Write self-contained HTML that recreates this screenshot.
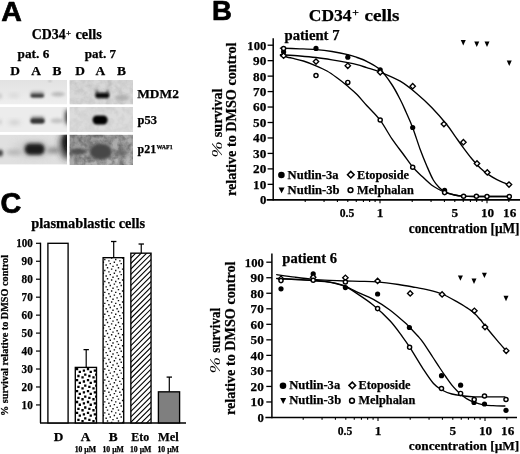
<!DOCTYPE html>
<html><head><meta charset="utf-8"><title>Figure</title>
<style>html,body{margin:0;padding:0;background:#fff}svg{display:block}</style></head>
<body>
<svg width="520" height="454" viewBox="0 0 520 454">
<defs>
<filter id="b1" x="-50%" y="-50%" width="200%" height="200%"><feGaussianBlur stdDeviation="1"/></filter>
<filter id="b15" x="-50%" y="-50%" width="200%" height="200%"><feGaussianBlur stdDeviation="1.5"/></filter>
<filter id="b2" x="-50%" y="-50%" width="200%" height="200%"><feGaussianBlur stdDeviation="2.2"/></filter>
<filter id="b3" x="-50%" y="-50%" width="200%" height="200%"><feGaussianBlur stdDeviation="3.5"/></filter>
<filter id="noise" x="0" y="0" width="100%" height="100%"><feTurbulence type="fractalNoise" baseFrequency="0.16" numOctaves="3" seed="7" result="n"/><feColorMatrix type="matrix" values="0 0 0 0 0  0 0 0 0 0  0 0 0 0 0  1.1 1.1 0 0 -0.85"/><feGaussianBlur stdDeviation="0.6"/></filter>
<pattern id="pA" width="3.2" height="3.2" patternUnits="userSpaceOnUse" patternTransform="rotate(20)"><rect width="3.2" height="3.2" fill="#fff"/><rect x="0.6" y="0.6" width="1.8" height="1.8" fill="#000"/></pattern>
<pattern id="pB" width="3.2" height="3.2" patternUnits="userSpaceOnUse" patternTransform="rotate(20)"><rect width="3.2" height="3.2" fill="#fff"/><rect x="1" y="1" width="0.9" height="0.9" fill="#111"/></pattern>
<pattern id="pE" width="3.5" height="3.5" patternUnits="userSpaceOnUse" patternTransform="rotate(-50)"><rect width="3.5" height="3.5" fill="#fff"/><rect x="0" y="0" width="3.5" height="1.3" fill="#000"/></pattern>
<clipPath id="cL1"><rect x="0" y="80" width="67" height="24.5"/></clipPath>
<clipPath id="cL2"><rect x="0" y="107" width="67" height="25.4"/></clipPath>
<clipPath id="cL3"><rect x="0" y="134.7" width="67" height="30"/></clipPath>
<clipPath id="cR1"><rect x="69.4" y="80" width="63.6" height="24.6"/></clipPath>
<clipPath id="cR2"><rect x="69.4" y="107" width="63.6" height="25.4"/></clipPath>
<clipPath id="cR3"><rect x="69.4" y="134.7" width="63.6" height="30.4"/></clipPath>
</defs>
<rect width="520" height="454" fill="#fff"/>
<text x="1.2" y="20.5" font-size="27.5" text-anchor="start" font-family="'Liberation Sans', sans-serif" font-weight="bold" textLength="20.6" lengthAdjust="spacingAndGlyphs" stroke="#000" stroke-width="0.7" stroke-linejoin="round">A</text>
<text x="211.9" y="20.4" font-size="27.5" text-anchor="start" font-family="'Liberation Sans', sans-serif" font-weight="bold" stroke="#000" stroke-width="0.7" stroke-linejoin="round">B</text>
<text x="0.4" y="213" font-size="28.8" text-anchor="start" font-family="'Liberation Sans', sans-serif" font-weight="bold" stroke="#000" stroke-width="0.7" stroke-linejoin="round">C</text>
<text x="31.8" y="39.2" font-size="13.6" text-anchor="start" font-family="'Liberation Serif', serif" font-weight="bold" stroke="#000" stroke-width="0.25" textLength="33.9" lengthAdjust="spacingAndGlyphs" >CD34</text>
<text x="66" y="36" font-size="8.5" text-anchor="start" font-family="'Liberation Serif', serif" font-weight="bold" stroke="#000" stroke-width="0.25" textLength="5" lengthAdjust="spacingAndGlyphs" >+</text>
<text x="75.4" y="39.2" font-size="13.6" text-anchor="start" font-family="'Liberation Serif', serif" font-weight="bold" stroke="#000" stroke-width="0.25" textLength="26.4" lengthAdjust="spacingAndGlyphs" >cells</text>
<text x="17.6" y="57.5" font-size="13.4" text-anchor="start" font-family="'Liberation Serif', serif" font-weight="bold" stroke="#000" stroke-width="0.25" textLength="31.7" lengthAdjust="spacingAndGlyphs" >pat. 6</text>
<text x="84.7" y="57.5" font-size="13.4" text-anchor="start" font-family="'Liberation Serif', serif" font-weight="bold" stroke="#000" stroke-width="0.25" textLength="31.3" lengthAdjust="spacingAndGlyphs" >pat. 7</text>
<text x="15" y="75" font-size="13.4" text-anchor="middle" font-family="'Liberation Serif', serif" font-weight="bold" stroke="#000" stroke-width="0.25" stroke-width="0.1">D</text>
<text x="36" y="75" font-size="13.4" text-anchor="middle" font-family="'Liberation Serif', serif" font-weight="bold" stroke="#000" stroke-width="0.25" stroke-width="0.1">A</text>
<text x="57" y="75" font-size="13.4" text-anchor="middle" font-family="'Liberation Serif', serif" font-weight="bold" stroke="#000" stroke-width="0.25" stroke-width="0.1">B</text>
<text x="80" y="75" font-size="13.4" text-anchor="middle" font-family="'Liberation Serif', serif" font-weight="bold" stroke="#000" stroke-width="0.25" stroke-width="0.1">D</text>
<text x="100.4" y="75" font-size="13.4" text-anchor="middle" font-family="'Liberation Serif', serif" font-weight="bold" stroke="#000" stroke-width="0.25" stroke-width="0.1">A</text>
<text x="121.4" y="75" font-size="13.4" text-anchor="middle" font-family="'Liberation Serif', serif" font-weight="bold" stroke="#000" stroke-width="0.25" stroke-width="0.1">B</text>
<text x="137.2" y="97.8" font-size="13.3" text-anchor="start" font-family="'Liberation Serif', serif" font-weight="bold" stroke="#000" stroke-width="0.25" textLength="41.7" lengthAdjust="spacingAndGlyphs" >MDM2</text>
<text x="137.6" y="123.8" font-size="13" text-anchor="start" font-family="'Liberation Serif', serif" font-weight="bold" stroke="#000" stroke-width="0.25" textLength="19.4" lengthAdjust="spacingAndGlyphs" >p53</text>
<text x="137.6" y="152.9" font-size="13" text-anchor="start" font-family="'Liberation Serif', serif" font-weight="bold" stroke="#000" stroke-width="0.25" textLength="18.6" lengthAdjust="spacingAndGlyphs" >p21</text>
<text x="156.5" y="149" font-size="6.5" text-anchor="start" font-family="'Liberation Serif', serif" font-weight="bold" stroke="#000" stroke-width="0.25" textLength="16.2" lengthAdjust="spacingAndGlyphs" >WAF1</text>
<linearGradient id="gL1" x1="0" y1="0" x2="0" y2="1"><stop offset="0" stop-color="#e2e2e2"/><stop offset="1" stop-color="#efefef"/></linearGradient>
<linearGradient id="gR3" x1="0" y1="0" x2="1" y2="1"><stop offset="0" stop-color="#909090"/><stop offset="0.5" stop-color="#ababab"/><stop offset="1" stop-color="#bcbcbc"/></linearGradient>
<g clip-path="url(#cL1)"><rect x="0" y="80" width="67" height="24.5" fill="url(#gL1)"/>
<ellipse cx="14" cy="95.5" rx="6" ry="2.2" fill="#d2d2d2" opacity="0.8" filter="url(#b2)"/>
<rect x="30.5" y="91.5" width="13.5" height="5.5" rx="2" fill="#8a8a8a" opacity="0.8" filter="url(#b15)"/>
<rect x="30.5" y="94" width="13.5" height="3.6" rx="2" fill="#3c3c3c" opacity="1" filter="url(#b1)"/>
<ellipse cx="58" cy="94.3" rx="7" ry="2.2" fill="#b4b4b4" opacity="0.9" filter="url(#b15)"/>
<ellipse cx="0" cy="96" rx="2" ry="3" fill="#c8c8c8" opacity="0.9" filter="url(#b15)"/>
<ellipse cx="50" cy="81" rx="1.6" ry="0.9" fill="#999" opacity="0.6" filter="url(#b1)"/>
</g>
<g clip-path="url(#cL2)"><rect x="0" y="107" width="67" height="25" fill="#ececec"/>
<ellipse cx="14.5" cy="122.5" rx="6" ry="2.6" fill="#cdcdcd" opacity="0.9" filter="url(#b2)"/>
<rect x="30.5" y="116" width="14" height="7" rx="3" fill="#909090" opacity="0.8" filter="url(#b15)"/>
<rect x="30.5" y="118.5" width="14" height="5" rx="2.5" fill="#333" opacity="1" filter="url(#b1)"/>
<ellipse cx="57" cy="120.7" rx="6.5" ry="2.5" fill="#c0c0c0" opacity="0.95" filter="url(#b15)"/>
<ellipse cx="68.5" cy="117" rx="3.5" ry="8" fill="#333" opacity="1" filter="url(#b2)"/>
<ellipse cx="0" cy="122" rx="2" ry="3" fill="#d0d0d0" opacity="0.9" filter="url(#b15)"/>
</g>
<g clip-path="url(#cL3)"><rect x="0" y="134.5" width="67" height="30" fill="#e0e0e0"/>
<ellipse cx="34" cy="149" rx="22" ry="9" fill="#cfcfcf" opacity="0.9" filter="url(#b3)"/>
<ellipse cx="14" cy="152.4" rx="8" ry="2.6" fill="#b0b0b0" opacity="0.9" filter="url(#b2)"/>
<rect x="24.5" y="143" width="20" height="12" rx="5" fill="#555" opacity="0.9" filter="url(#b2)"/>
<rect x="25.5" y="144.5" width="18.5" height="9.5" rx="4.5" fill="#1e1e1e" opacity="1" filter="url(#b15)"/>
<ellipse cx="53" cy="150.5" rx="6.5" ry="2.8" fill="#8c8c8c" opacity="0.95" filter="url(#b2)"/>
<ellipse cx="68" cy="145" rx="8" ry="14" fill="#2a2a2a" opacity="1" filter="url(#b3)"/>
<ellipse cx="69" cy="141" rx="5" ry="9" fill="#111" opacity="1" filter="url(#b2)"/>
<ellipse cx="0" cy="153" rx="3" ry="3.6" fill="#444" opacity="1" filter="url(#b15)"/>
</g>
<g clip-path="url(#cR1)"><rect x="69.4" y="80" width="63.6" height="24.5" fill="#d8d8d8"/>
<rect x="69" y="80" width="64" height="24.5" filter="url(#noise)" opacity="0.12"/>
<rect x="95.3" y="89.5" width="3.4" height="6" rx="1.5" fill="#777" opacity="0.9" filter="url(#b1)"/>
<rect x="105.8" y="89.5" width="3.4" height="6" rx="1.5" fill="#777" opacity="0.9" filter="url(#b1)"/>
<rect x="95.3" y="92.8" width="14" height="5.4" rx="2.5" fill="#0c0c0c" opacity="1" filter="url(#b1)"/>
<ellipse cx="122" cy="97.8" rx="7.5" ry="2.6" fill="#adadad" opacity="0.95" filter="url(#b15)"/>
</g>
<g clip-path="url(#cR2)"><rect x="69.4" y="107" width="63.6" height="25" fill="#dcdcdc"/>
<rect x="69" y="107" width="64" height="25" filter="url(#noise)" opacity="0.08"/>
<rect x="92.6" y="115.4" width="15" height="9" rx="4.2" fill="#000" opacity="1" filter="url(#b1)"/>
</g>
<g clip-path="url(#cR3)"><rect x="69.4" y="134.5" width="63.6" height="30.6" fill="url(#gR3)"/>
<rect x="69" y="134.5" width="64" height="31" filter="url(#noise)" opacity="0.5"/>
<ellipse cx="79" cy="151.4" rx="8.5" ry="3" fill="#505050" opacity="0.95" filter="url(#b15)"/>
<ellipse cx="100.7" cy="151.6" rx="11" ry="8.2" fill="#474747" opacity="1" filter="url(#b15)"/>
<ellipse cx="121" cy="153" rx="7.5" ry="3" fill="#5c5c5c" opacity="0.9" filter="url(#b2)"/>
</g>
<line x1="273.2" y1="38.3" x2="273.2" y2="200.5" stroke="#000" stroke-width="1.5"/>
<line x1="266.7" y1="199.8" x2="520" y2="199.8" stroke="#000" stroke-width="1.7"/>
<text x="266.3" y="204.20000000000002" font-size="13" text-anchor="end" font-family="'Liberation Serif', serif" font-weight="bold" stroke="#000" stroke-width="0.25" textLength="6.4" lengthAdjust="spacingAndGlyphs" >0</text>
<line x1="267.59999999999997" y1="184.34" x2="273.2" y2="184.34" stroke="#000" stroke-width="1.3"/>
<text x="266.3" y="188.74" font-size="13" text-anchor="end" font-family="'Liberation Serif', serif" font-weight="bold" stroke="#000" stroke-width="0.25" textLength="13.2" lengthAdjust="spacingAndGlyphs" >10</text>
<line x1="267.59999999999997" y1="168.88" x2="273.2" y2="168.88" stroke="#000" stroke-width="1.3"/>
<text x="266.3" y="173.28" font-size="13" text-anchor="end" font-family="'Liberation Serif', serif" font-weight="bold" stroke="#000" stroke-width="0.25" textLength="13.2" lengthAdjust="spacingAndGlyphs" >20</text>
<line x1="267.59999999999997" y1="153.42000000000002" x2="273.2" y2="153.42000000000002" stroke="#000" stroke-width="1.3"/>
<text x="266.3" y="157.82000000000002" font-size="13" text-anchor="end" font-family="'Liberation Serif', serif" font-weight="bold" stroke="#000" stroke-width="0.25" textLength="13.2" lengthAdjust="spacingAndGlyphs" >30</text>
<line x1="267.59999999999997" y1="137.96" x2="273.2" y2="137.96" stroke="#000" stroke-width="1.3"/>
<text x="266.3" y="142.36" font-size="13" text-anchor="end" font-family="'Liberation Serif', serif" font-weight="bold" stroke="#000" stroke-width="0.25" textLength="13.2" lengthAdjust="spacingAndGlyphs" >40</text>
<line x1="267.59999999999997" y1="122.5" x2="273.2" y2="122.5" stroke="#000" stroke-width="1.3"/>
<text x="266.3" y="126.9" font-size="13" text-anchor="end" font-family="'Liberation Serif', serif" font-weight="bold" stroke="#000" stroke-width="0.25" textLength="13.2" lengthAdjust="spacingAndGlyphs" >50</text>
<line x1="267.59999999999997" y1="107.03999999999999" x2="273.2" y2="107.03999999999999" stroke="#000" stroke-width="1.3"/>
<text x="266.3" y="111.44" font-size="13" text-anchor="end" font-family="'Liberation Serif', serif" font-weight="bold" stroke="#000" stroke-width="0.25" textLength="13.2" lengthAdjust="spacingAndGlyphs" >60</text>
<line x1="267.59999999999997" y1="91.58" x2="273.2" y2="91.58" stroke="#000" stroke-width="1.3"/>
<text x="266.3" y="95.98" font-size="13" text-anchor="end" font-family="'Liberation Serif', serif" font-weight="bold" stroke="#000" stroke-width="0.25" textLength="13.2" lengthAdjust="spacingAndGlyphs" >70</text>
<line x1="267.59999999999997" y1="76.11999999999999" x2="273.2" y2="76.11999999999999" stroke="#000" stroke-width="1.3"/>
<text x="266.3" y="80.52" font-size="13" text-anchor="end" font-family="'Liberation Serif', serif" font-weight="bold" stroke="#000" stroke-width="0.25" textLength="13.2" lengthAdjust="spacingAndGlyphs" >80</text>
<line x1="267.59999999999997" y1="60.66" x2="273.2" y2="60.66" stroke="#000" stroke-width="1.3"/>
<text x="266.3" y="65.06" font-size="13" text-anchor="end" font-family="'Liberation Serif', serif" font-weight="bold" stroke="#000" stroke-width="0.25" textLength="13.2" lengthAdjust="spacingAndGlyphs" >90</text>
<line x1="267.59999999999997" y1="45.19999999999999" x2="273.2" y2="45.19999999999999" stroke="#000" stroke-width="1.3"/>
<text x="266.3" y="49.59999999999999" font-size="13" text-anchor="end" font-family="'Liberation Serif', serif" font-weight="bold" stroke="#000" stroke-width="0.25" textLength="19" lengthAdjust="spacingAndGlyphs" >100</text>
<line x1="305.210209536046" y1="199.8" x2="305.210209536046" y2="202.0" stroke="#000" stroke-width="1.1"/>
<line x1="324.05197425500387" y1="199.8" x2="324.05197425500387" y2="202.0" stroke="#000" stroke-width="1.1"/>
<line x1="337.420419072092" y1="199.8" x2="337.420419072092" y2="202.0" stroke="#000" stroke-width="1.1"/>
<line x1="347.78979046395403" y1="199.8" x2="347.78979046395403" y2="202.0" stroke="#000" stroke-width="1.1"/>
<line x1="356.2621837910499" y1="199.8" x2="356.2621837910499" y2="202.0" stroke="#000" stroke-width="1.1"/>
<line x1="363.42549028152547" y1="199.8" x2="363.42549028152547" y2="202.0" stroke="#000" stroke-width="1.1"/>
<line x1="369.63062860813795" y1="199.8" x2="369.63062860813795" y2="202.0" stroke="#000" stroke-width="1.1"/>
<line x1="375.10394851000774" y1="199.8" x2="375.10394851000774" y2="202.0" stroke="#000" stroke-width="1.1"/>
<line x1="380.0" y1="199.8" x2="380.0" y2="203.3" stroke="#000" stroke-width="1.1"/>
<line x1="412.21020953604597" y1="199.8" x2="412.21020953604597" y2="202.0" stroke="#000" stroke-width="1.1"/>
<line x1="431.05197425500387" y1="199.8" x2="431.05197425500387" y2="202.0" stroke="#000" stroke-width="1.1"/>
<line x1="444.420419072092" y1="199.8" x2="444.420419072092" y2="202.0" stroke="#000" stroke-width="1.1"/>
<line x1="454.78979046395403" y1="199.8" x2="454.78979046395403" y2="202.0" stroke="#000" stroke-width="1.1"/>
<line x1="463.2621837910499" y1="199.8" x2="463.2621837910499" y2="202.0" stroke="#000" stroke-width="1.1"/>
<line x1="470.42549028152547" y1="199.8" x2="470.42549028152547" y2="202.0" stroke="#000" stroke-width="1.1"/>
<line x1="476.63062860813795" y1="199.8" x2="476.63062860813795" y2="202.0" stroke="#000" stroke-width="1.1"/>
<line x1="482.10394851000774" y1="199.8" x2="482.10394851000774" y2="202.0" stroke="#000" stroke-width="1.1"/>
<line x1="487.0" y1="199.8" x2="487.0" y2="203.3" stroke="#000" stroke-width="1.1"/>
<line x1="508.840838144184" y1="199.8" x2="508.840838144184" y2="202.0" stroke="#000" stroke-width="1.1"/>
<text x="346.989790463954" y="217.4" font-size="13.3" text-anchor="middle" font-family="'Liberation Serif', serif" font-weight="bold" stroke="#000" stroke-width="0.25" textLength="14.6" lengthAdjust="spacingAndGlyphs" >0.5</text>
<text x="380.0" y="217.4" font-size="13.3" text-anchor="middle" font-family="'Liberation Serif', serif" font-weight="bold" stroke="#000" stroke-width="0.25" >1</text>
<text x="454.78979046395403" y="217.4" font-size="13.3" text-anchor="middle" font-family="'Liberation Serif', serif" font-weight="bold" stroke="#000" stroke-width="0.25" >5</text>
<text x="487.6" y="217.4" font-size="13.3" text-anchor="middle" font-family="'Liberation Serif', serif" font-weight="bold" stroke="#000" stroke-width="0.25" textLength="13.2" lengthAdjust="spacingAndGlyphs" >10</text>
<text x="509.640838144184" y="217.4" font-size="13.3" text-anchor="middle" font-family="'Liberation Serif', serif" font-weight="bold" stroke="#000" stroke-width="0.25" textLength="13.2" lengthAdjust="spacingAndGlyphs" >16</text>
<text x="284.5" y="39.8" font-size="14.2" text-anchor="start" font-family="'Liberation Serif', serif" font-weight="bold" stroke="#000" stroke-width="0.25" textLength="55" lengthAdjust="spacingAndGlyphs" >patient 7</text>
<path d="M280.40,48.20 C283.67,48.30 294.07,48.57 300.00,48.80 C305.93,49.03 310.67,49.15 316.00,49.60 C321.33,50.05 326.70,50.67 332.00,51.50 C337.30,52.33 343.63,53.60 347.80,54.60 C351.97,55.60 353.85,56.38 357.00,57.50 C360.15,58.62 362.85,59.28 366.70,61.30 C370.55,63.32 375.92,65.73 380.10,69.60 C384.28,73.47 388.45,79.52 391.80,84.50 C395.15,89.48 397.83,94.92 400.20,99.50 C402.57,104.08 403.92,107.30 406.00,112.00 C408.08,116.70 410.33,121.45 412.70,127.70 C415.07,133.95 417.83,143.08 420.20,149.50 C422.57,155.92 424.72,161.12 426.90,166.20 C429.08,171.28 431.25,176.45 433.30,180.00 C435.35,183.55 437.25,185.52 439.20,187.50 C441.15,189.48 442.43,190.65 445.00,191.90 C447.57,193.15 451.55,194.28 454.60,195.00 C457.65,195.72 459.73,195.95 463.30,196.20 C466.87,196.45 468.38,196.45 476.00,196.50 C483.62,196.55 503.50,196.50 509.00,196.50" fill="none" stroke="#000" stroke-width="1.35" stroke-linecap="round"/>
<path d="M280.40,54.70 C283.67,54.92 294.07,55.53 300.00,56.00 C305.93,56.47 310.67,56.87 316.00,57.50 C321.33,58.13 326.70,58.95 332.00,59.80 C337.30,60.65 343.63,61.80 347.80,62.60 C351.97,63.40 353.85,63.77 357.00,64.60 C360.15,65.43 362.85,66.37 366.70,67.60 C370.55,68.83 374.52,69.73 380.10,72.00 C385.68,74.27 394.07,77.58 400.20,81.20 C406.33,84.82 411.65,89.32 416.90,93.70 C422.15,98.08 426.73,102.37 431.70,107.50 C436.67,112.63 442.82,119.73 446.70,124.50 C450.58,129.27 452.22,132.22 455.00,136.10 C457.78,139.98 460.60,144.03 463.40,147.80 C466.20,151.57 469.00,155.35 471.80,158.70 C474.60,162.05 477.42,165.25 480.20,167.90 C482.98,170.55 485.72,172.65 488.50,174.60 C491.28,176.55 494.38,178.27 496.90,179.60 C499.42,180.93 501.58,181.77 503.60,182.60 C505.62,183.43 508.10,184.27 509.00,184.60" fill="none" stroke="#000" stroke-width="1.35" stroke-linecap="round"/>
<path d="M280.40,55.70 C282.33,56.12 288.17,57.32 292.00,58.20 C295.83,59.08 299.40,59.73 303.40,61.00 C307.40,62.27 312.07,64.13 316.00,65.80 C319.93,67.47 323.50,69.00 327.00,71.00 C330.50,73.00 333.53,75.25 337.00,77.80 C340.47,80.35 344.47,83.52 347.80,86.30 C351.13,89.08 353.85,91.30 357.00,94.50 C360.15,97.70 362.85,101.22 366.70,105.50 C370.55,109.78 375.92,114.68 380.10,120.20 C384.28,125.72 387.90,132.88 391.80,138.60 C395.70,144.32 400.02,149.77 403.50,154.50 C406.98,159.23 409.63,163.38 412.70,167.00 C415.77,170.62 418.77,173.20 421.90,176.20 C425.03,179.20 428.65,182.78 431.50,185.00 C434.35,187.22 436.75,188.28 439.00,189.50 C441.25,190.72 442.40,191.38 445.00,192.30 C447.60,193.22 451.55,194.35 454.60,195.00 C457.65,195.65 459.73,195.95 463.30,196.20 C466.87,196.45 468.38,196.45 476.00,196.50 C483.62,196.55 503.50,196.50 509.00,196.50" fill="none" stroke="#000" stroke-width="1.35" stroke-linecap="round"/>
<circle cx="283.6" cy="51.9" r="2.6" fill="#000"/>
<circle cx="316" cy="48.4" r="2.6" fill="#000"/>
<circle cx="347.8" cy="57.2" r="2.6" fill="#000"/>
<circle cx="380.2" cy="69.8" r="2.6" fill="#000"/>
<circle cx="412.7" cy="127.5" r="2.6" fill="#000"/>
<circle cx="444.6" cy="190.4" r="2.6" fill="#000"/>
<path d="M280.90000000000003,55.7 L283.6,53.0 L286.3,55.7 L283.6,58.400000000000006 Z" fill="#fff" stroke="#000" stroke-width="1.35"/>
<path d="M313.3,61.6 L316,58.9 L318.7,61.6 L316,64.3 Z" fill="#fff" stroke="#000" stroke-width="1.35"/>
<path d="M345.1,65.8 L347.8,63.099999999999994 L350.5,65.8 L347.8,68.5 Z" fill="#fff" stroke="#000" stroke-width="1.35"/>
<path d="M377.5,72.3 L380.2,69.6 L382.9,72.3 L380.2,75.0 Z" fill="#fff" stroke="#000" stroke-width="1.35"/>
<path d="M410.0,86.2 L412.7,83.5 L415.4,86.2 L412.7,88.9 Z" fill="#fff" stroke="#000" stroke-width="1.35"/>
<path d="M441.2,124.1 L443.9,121.39999999999999 L446.59999999999997,124.1 L443.9,126.8 Z" fill="#fff" stroke="#000" stroke-width="1.35"/>
<path d="M460.7,142.2 L463.4,139.5 L466.09999999999997,142.2 L463.4,144.89999999999998 Z" fill="#fff" stroke="#000" stroke-width="1.35"/>
<path d="M474.3,163.5 L477,160.8 L479.7,163.5 L477,166.2 Z" fill="#fff" stroke="#000" stroke-width="1.35"/>
<path d="M484.6,172.4 L487.3,169.70000000000002 L490.0,172.4 L487.3,175.1 Z" fill="#fff" stroke="#000" stroke-width="1.35"/>
<path d="M506.3,184.6 L509,181.9 L511.7,184.6 L509,187.29999999999998 Z" fill="#fff" stroke="#000" stroke-width="1.35"/>
<circle cx="283.6" cy="48.5" r="2.05" fill="#fff" stroke="#000" stroke-width="1.45"/>
<circle cx="316" cy="75.6" r="2.05" fill="#fff" stroke="#000" stroke-width="1.45"/>
<circle cx="347.8" cy="82.4" r="2.05" fill="#fff" stroke="#000" stroke-width="1.45"/>
<circle cx="380.2" cy="120" r="2.05" fill="#fff" stroke="#000" stroke-width="1.45"/>
<circle cx="412.7" cy="167.2" r="2.05" fill="#fff" stroke="#000" stroke-width="1.45"/>
<circle cx="444.6" cy="192.6" r="2.05" fill="#fff" stroke="#000" stroke-width="1.45"/>
<circle cx="463.6" cy="196.2" r="2.05" fill="#fff" stroke="#000" stroke-width="1.45"/>
<circle cx="476.4" cy="196.2" r="2.05" fill="#fff" stroke="#000" stroke-width="1.45"/>
<circle cx="487" cy="196.5" r="2.05" fill="#fff" stroke="#000" stroke-width="1.45"/>
<circle cx="509.3" cy="196.5" r="2.05" fill="#fff" stroke="#000" stroke-width="1.45"/>
<path d="M460.75,40.0 L465.75,40.0 L463.25,45.400000000000006 Z" fill="#000"/>
<path d="M474.25,41.5 L479.25,41.5 L476.75,46.900000000000006 Z" fill="#000"/>
<path d="M484.5,41.5 L489.5,41.5 L487,46.900000000000006 Z" fill="#000"/>
<path d="M506.75,60.5 L511.75,60.5 L509.25,65.9 Z" fill="#000"/>
<circle cx="281.4" cy="175.0" r="3.3" fill="#000"/>
<text x="287.6" y="178.6" font-size="13.5" text-anchor="start" font-family="'Liberation Serif', serif" font-weight="bold" stroke="#000" stroke-width="0.25" textLength="51" lengthAdjust="spacingAndGlyphs" >Nutlin-3a</text>
<path d="M278.6,187.5 L284.6,187.5 L281.6,193.3 Z" fill="#000"/>
<text x="287.6" y="193.8" font-size="13.5" text-anchor="start" font-family="'Liberation Serif', serif" font-weight="bold" stroke="#000" stroke-width="0.25" textLength="52" lengthAdjust="spacingAndGlyphs" >Nutlin-3b</text>
<path d="M347.5,174.7 L350.8,171.39999999999998 L354.1,174.7 L350.8,178.0 Z" fill="#fff" stroke="#000" stroke-width="1.55"/>
<text x="357.0" y="178.6" font-size="13.5" text-anchor="start" font-family="'Liberation Serif', serif" font-weight="bold" stroke="#000" stroke-width="0.25" textLength="52" lengthAdjust="spacingAndGlyphs" >Etoposide</text>
<circle cx="350.5" cy="190.10000000000002" r="2.4" fill="#fff" stroke="#000" stroke-width="1.55"/>
<text x="357.0" y="193.8" font-size="13.5" text-anchor="start" font-family="'Liberation Serif', serif" font-weight="bold" stroke="#000" stroke-width="0.25" textLength="56.75" lengthAdjust="spacingAndGlyphs" >Melphalan</text>
<text x="408.75" y="232.9" font-size="13.8" text-anchor="start" font-family="'Liberation Serif', serif" font-weight="bold" stroke="#000" stroke-width="0.25" textLength="110.8" lengthAdjust="spacingAndGlyphs" >concentration [µM]</text>
<text transform="translate(235.7,196) rotate(-90)" font-size="13.8" font-family="'Liberation Serif', serif" font-weight="bold" stroke="#000" stroke-width="0.25" textLength="153.5" lengthAdjust="spacingAndGlyphs" >relative to DMSO control</text>
<text transform="translate(222.10000000000002,157.6) rotate(-90)" font-size="14.5" font-family="'Liberation Serif', serif" font-style="italic" textLength="16.30000000000001" lengthAdjust="spacingAndGlyphs">%</text>
<text transform="translate(221.8,137.2) rotate(-90)" font-size="13.8" font-family="'Liberation Serif', serif" font-weight="bold" stroke="#000" stroke-width="0.25" textLength="48.69999999999999" lengthAdjust="spacingAndGlyphs" >survival</text>
<line x1="271.9" y1="253.4" x2="271.9" y2="418.2" stroke="#000" stroke-width="1.5"/>
<line x1="265.4" y1="417.5" x2="517" y2="417.5" stroke="#000" stroke-width="1.7"/>
<text x="263.79999999999995" y="421.9" font-size="13" text-anchor="end" font-family="'Liberation Serif', serif" font-weight="bold" stroke="#000" stroke-width="0.25" textLength="6.4" lengthAdjust="spacingAndGlyphs" >0</text>
<line x1="266.29999999999995" y1="401.97" x2="271.9" y2="401.97" stroke="#000" stroke-width="1.3"/>
<text x="263.79999999999995" y="406.37" font-size="13" text-anchor="end" font-family="'Liberation Serif', serif" font-weight="bold" stroke="#000" stroke-width="0.25" textLength="13.2" lengthAdjust="spacingAndGlyphs" >10</text>
<line x1="266.29999999999995" y1="386.44" x2="271.9" y2="386.44" stroke="#000" stroke-width="1.3"/>
<text x="263.79999999999995" y="390.84" font-size="13" text-anchor="end" font-family="'Liberation Serif', serif" font-weight="bold" stroke="#000" stroke-width="0.25" textLength="13.2" lengthAdjust="spacingAndGlyphs" >20</text>
<line x1="266.29999999999995" y1="370.90999999999997" x2="271.9" y2="370.90999999999997" stroke="#000" stroke-width="1.3"/>
<text x="263.79999999999995" y="375.30999999999995" font-size="13" text-anchor="end" font-family="'Liberation Serif', serif" font-weight="bold" stroke="#000" stroke-width="0.25" textLength="13.2" lengthAdjust="spacingAndGlyphs" >30</text>
<line x1="266.29999999999995" y1="355.38" x2="271.9" y2="355.38" stroke="#000" stroke-width="1.3"/>
<text x="263.79999999999995" y="359.78" font-size="13" text-anchor="end" font-family="'Liberation Serif', serif" font-weight="bold" stroke="#000" stroke-width="0.25" textLength="13.2" lengthAdjust="spacingAndGlyphs" >40</text>
<line x1="266.29999999999995" y1="339.85" x2="271.9" y2="339.85" stroke="#000" stroke-width="1.3"/>
<text x="263.79999999999995" y="344.25" font-size="13" text-anchor="end" font-family="'Liberation Serif', serif" font-weight="bold" stroke="#000" stroke-width="0.25" textLength="13.2" lengthAdjust="spacingAndGlyphs" >50</text>
<line x1="266.29999999999995" y1="324.32" x2="271.9" y2="324.32" stroke="#000" stroke-width="1.3"/>
<text x="263.79999999999995" y="328.71999999999997" font-size="13" text-anchor="end" font-family="'Liberation Serif', serif" font-weight="bold" stroke="#000" stroke-width="0.25" textLength="13.2" lengthAdjust="spacingAndGlyphs" >60</text>
<line x1="266.29999999999995" y1="308.79" x2="271.9" y2="308.79" stroke="#000" stroke-width="1.3"/>
<text x="263.79999999999995" y="313.19" font-size="13" text-anchor="end" font-family="'Liberation Serif', serif" font-weight="bold" stroke="#000" stroke-width="0.25" textLength="13.2" lengthAdjust="spacingAndGlyphs" >70</text>
<line x1="266.29999999999995" y1="293.26" x2="271.9" y2="293.26" stroke="#000" stroke-width="1.3"/>
<text x="263.79999999999995" y="297.65999999999997" font-size="13" text-anchor="end" font-family="'Liberation Serif', serif" font-weight="bold" stroke="#000" stroke-width="0.25" textLength="13.2" lengthAdjust="spacingAndGlyphs" >80</text>
<line x1="266.29999999999995" y1="277.73" x2="271.9" y2="277.73" stroke="#000" stroke-width="1.3"/>
<text x="263.79999999999995" y="282.13" font-size="13" text-anchor="end" font-family="'Liberation Serif', serif" font-weight="bold" stroke="#000" stroke-width="0.25" textLength="13.2" lengthAdjust="spacingAndGlyphs" >90</text>
<line x1="266.29999999999995" y1="262.2" x2="271.9" y2="262.2" stroke="#000" stroke-width="1.3"/>
<text x="263.79999999999995" y="266.59999999999997" font-size="13" text-anchor="end" font-family="'Liberation Serif', serif" font-weight="bold" stroke="#000" stroke-width="0.25" textLength="19" lengthAdjust="spacingAndGlyphs" >100</text>
<line x1="303.210209536046" y1="417.5" x2="303.210209536046" y2="419.7" stroke="#000" stroke-width="1.1"/>
<line x1="322.05197425500387" y1="417.5" x2="322.05197425500387" y2="419.7" stroke="#000" stroke-width="1.1"/>
<line x1="335.420419072092" y1="417.5" x2="335.420419072092" y2="419.7" stroke="#000" stroke-width="1.1"/>
<line x1="345.78979046395403" y1="417.5" x2="345.78979046395403" y2="419.7" stroke="#000" stroke-width="1.1"/>
<line x1="354.2621837910499" y1="417.5" x2="354.2621837910499" y2="419.7" stroke="#000" stroke-width="1.1"/>
<line x1="361.42549028152547" y1="417.5" x2="361.42549028152547" y2="419.7" stroke="#000" stroke-width="1.1"/>
<line x1="367.63062860813795" y1="417.5" x2="367.63062860813795" y2="419.7" stroke="#000" stroke-width="1.1"/>
<line x1="373.10394851000774" y1="417.5" x2="373.10394851000774" y2="419.7" stroke="#000" stroke-width="1.1"/>
<line x1="378.0" y1="417.5" x2="378.0" y2="421.0" stroke="#000" stroke-width="1.1"/>
<line x1="410.21020953604597" y1="417.5" x2="410.21020953604597" y2="419.7" stroke="#000" stroke-width="1.1"/>
<line x1="429.05197425500387" y1="417.5" x2="429.05197425500387" y2="419.7" stroke="#000" stroke-width="1.1"/>
<line x1="442.420419072092" y1="417.5" x2="442.420419072092" y2="419.7" stroke="#000" stroke-width="1.1"/>
<line x1="452.78979046395403" y1="417.5" x2="452.78979046395403" y2="419.7" stroke="#000" stroke-width="1.1"/>
<line x1="461.2621837910499" y1="417.5" x2="461.2621837910499" y2="419.7" stroke="#000" stroke-width="1.1"/>
<line x1="468.42549028152547" y1="417.5" x2="468.42549028152547" y2="419.7" stroke="#000" stroke-width="1.1"/>
<line x1="474.63062860813795" y1="417.5" x2="474.63062860813795" y2="419.7" stroke="#000" stroke-width="1.1"/>
<line x1="480.10394851000774" y1="417.5" x2="480.10394851000774" y2="419.7" stroke="#000" stroke-width="1.1"/>
<line x1="485.0" y1="417.5" x2="485.0" y2="421.0" stroke="#000" stroke-width="1.1"/>
<line x1="506.840838144184" y1="417.5" x2="506.840838144184" y2="419.7" stroke="#000" stroke-width="1.1"/>
<text x="344.989790463954" y="435.1" font-size="13.3" text-anchor="middle" font-family="'Liberation Serif', serif" font-weight="bold" stroke="#000" stroke-width="0.25" textLength="14.6" lengthAdjust="spacingAndGlyphs" >0.5</text>
<text x="378.0" y="435.1" font-size="13.3" text-anchor="middle" font-family="'Liberation Serif', serif" font-weight="bold" stroke="#000" stroke-width="0.25" >1</text>
<text x="452.78979046395403" y="435.1" font-size="13.3" text-anchor="middle" font-family="'Liberation Serif', serif" font-weight="bold" stroke="#000" stroke-width="0.25" >5</text>
<text x="485.6" y="435.1" font-size="13.3" text-anchor="middle" font-family="'Liberation Serif', serif" font-weight="bold" stroke="#000" stroke-width="0.25" textLength="13.2" lengthAdjust="spacingAndGlyphs" >10</text>
<text x="507.640838144184" y="435.1" font-size="13.3" text-anchor="middle" font-family="'Liberation Serif', serif" font-weight="bold" stroke="#000" stroke-width="0.25" textLength="13.2" lengthAdjust="spacingAndGlyphs" >16</text>
<text x="282.3" y="262.9" font-size="14.2" text-anchor="start" font-family="'Liberation Serif', serif" font-weight="bold" stroke="#000" stroke-width="0.25" textLength="54.7" lengthAdjust="spacingAndGlyphs" >patient 6</text>
<path d="M276.70,274.70 C279.75,275.12 288.92,276.43 295.00,277.20 C301.08,277.97 307.37,278.77 313.20,279.30 C319.03,279.83 324.70,280.12 330.00,280.40 C335.30,280.68 340.00,280.85 345.00,281.00 C350.00,281.15 354.57,281.15 360.00,281.30 C365.43,281.45 371.18,281.37 377.60,281.90 C384.02,282.43 392.22,283.58 398.50,284.50 C404.78,285.42 410.55,286.55 415.30,287.40 C420.05,288.25 422.53,288.50 427.00,289.60 C431.47,290.70 436.85,291.82 442.10,294.00 C447.35,296.18 454.52,300.50 458.50,302.70 C462.48,304.90 463.45,305.52 466.00,307.20 C468.55,308.88 471.47,310.78 473.80,312.80 C476.13,314.82 478.07,317.07 480.00,319.30 C481.93,321.53 482.58,322.73 485.40,326.20 C488.22,329.67 493.43,336.00 496.90,340.10 C500.37,344.20 504.65,349.02 506.20,350.80" fill="none" stroke="#000" stroke-width="1.35" stroke-linecap="round"/>
<path d="M276.70,278.40 C279.75,278.55 288.92,278.97 295.00,279.30 C301.08,279.63 308.20,280.05 313.20,280.40 C318.20,280.75 321.37,280.95 325.00,281.40 C328.63,281.85 331.67,282.33 335.00,283.10 C338.33,283.87 341.38,284.55 345.00,286.00 C348.62,287.45 351.97,289.58 356.70,291.80 C361.43,294.02 367.82,296.23 373.40,299.30 C378.98,302.37 384.62,306.02 390.20,310.20 C395.78,314.38 403.27,321.13 406.90,324.40 C410.53,327.67 410.18,327.87 412.00,329.80 C413.82,331.73 415.90,333.83 417.80,336.00 C419.70,338.17 420.87,339.22 423.40,342.80 C425.93,346.38 430.20,353.22 433.00,357.50 C435.80,361.78 438.03,365.25 440.20,368.50 C442.37,371.75 444.05,374.22 446.00,377.00 C447.95,379.78 450.07,382.90 451.90,385.20 C453.73,387.50 455.33,389.13 457.00,390.80 C458.67,392.47 460.23,393.87 461.90,395.20 C463.57,396.53 465.13,397.70 467.00,398.80 C468.87,399.90 470.40,400.80 473.10,401.80 C475.80,402.80 479.88,404.15 483.20,404.80 C486.52,405.45 489.38,405.50 493.00,405.70 C496.62,405.90 502.92,405.95 504.90,406.00" fill="none" stroke="#000" stroke-width="1.35" stroke-linecap="round"/>
<path d="M276.70,278.60 C279.75,278.75 288.92,279.17 295.00,279.50 C301.08,279.83 308.20,280.25 313.20,280.60 C318.20,280.95 321.37,281.13 325.00,281.60 C328.63,282.07 331.67,282.60 335.00,283.40 C338.33,284.20 341.38,284.73 345.00,286.40 C348.62,288.07 351.97,290.27 356.70,293.40 C361.43,296.53 367.82,300.60 373.40,305.20 C378.98,309.80 385.45,315.87 390.20,321.00 C394.95,326.13 398.60,331.57 401.90,336.00 C405.20,340.43 406.42,342.05 410.00,347.60 C413.58,353.15 419.48,363.32 423.40,369.30 C427.32,375.28 430.43,380.05 433.50,383.50 C436.57,386.95 438.73,388.25 441.80,390.00 C444.87,391.75 448.55,393.05 451.90,394.00 C455.25,394.95 458.08,395.23 461.90,395.70 C465.72,396.17 467.63,396.62 474.80,396.80 C481.97,396.98 499.88,396.80 504.90,396.80" fill="none" stroke="#000" stroke-width="1.35" stroke-linecap="round"/>
<circle cx="281" cy="288.8" r="2.6" fill="#000"/>
<circle cx="313.2" cy="273.9" r="2.6" fill="#000"/>
<circle cx="345.4" cy="287.6" r="2.6" fill="#000"/>
<circle cx="377.6" cy="294" r="2.6" fill="#000"/>
<circle cx="409.4" cy="327.5" r="2.6" fill="#000"/>
<circle cx="441.5" cy="375.7" r="2.6" fill="#000"/>
<circle cx="460.6" cy="385.2" r="2.6" fill="#000"/>
<circle cx="474" cy="402.4" r="2.6" fill="#000"/>
<circle cx="484.5" cy="404" r="2.6" fill="#000"/>
<circle cx="506" cy="410.3" r="2.6" fill="#000"/>
<path d="M278.3,278.8 L281,276.1 L283.7,278.8 L281,281.5 Z" fill="#fff" stroke="#000" stroke-width="1.35"/>
<path d="M310.5,277.2 L313.2,274.5 L315.9,277.2 L313.2,279.9 Z" fill="#fff" stroke="#000" stroke-width="1.35"/>
<path d="M342.7,277.8 L345.4,275.1 L348.09999999999997,277.8 L345.4,280.5 Z" fill="#fff" stroke="#000" stroke-width="1.35"/>
<path d="M374.90000000000003,280.9 L377.6,278.2 L380.3,280.9 L377.6,283.59999999999997 Z" fill="#fff" stroke="#000" stroke-width="1.35"/>
<path d="M407.5,293.4 L410.2,290.7 L412.9,293.4 L410.2,296.09999999999997 Z" fill="#fff" stroke="#000" stroke-width="1.35"/>
<path d="M439.40000000000003,294.4 L442.1,291.7 L444.8,294.4 L442.1,297.09999999999997 Z" fill="#fff" stroke="#000" stroke-width="1.35"/>
<path d="M471.7,310.8 L474.4,308.1 L477.09999999999997,310.8 L474.4,313.5 Z" fill="#fff" stroke="#000" stroke-width="1.35"/>
<path d="M482.3,327 L485,324.3 L487.7,327 L485,329.7 Z" fill="#fff" stroke="#000" stroke-width="1.35"/>
<path d="M503.5,350.8 L506.2,348.1 L508.9,350.8 L506.2,353.5 Z" fill="#fff" stroke="#000" stroke-width="1.35"/>
<circle cx="281" cy="280.6" r="2.05" fill="#fff" stroke="#000" stroke-width="1.45"/>
<circle cx="313.2" cy="280.2" r="2.05" fill="#fff" stroke="#000" stroke-width="1.45"/>
<circle cx="345.4" cy="282" r="2.05" fill="#fff" stroke="#000" stroke-width="1.45"/>
<circle cx="377.6" cy="308.6" r="2.05" fill="#fff" stroke="#000" stroke-width="1.45"/>
<circle cx="409.6" cy="347.3" r="2.05" fill="#fff" stroke="#000" stroke-width="1.45"/>
<circle cx="441.5" cy="388.5" r="2.05" fill="#fff" stroke="#000" stroke-width="1.45"/>
<circle cx="460.6" cy="393.4" r="2.05" fill="#fff" stroke="#000" stroke-width="1.45"/>
<circle cx="474.2" cy="399.6" r="2.05" fill="#fff" stroke="#000" stroke-width="1.45"/>
<circle cx="484.5" cy="396" r="2.05" fill="#fff" stroke="#000" stroke-width="1.45"/>
<circle cx="506" cy="399.5" r="2.05" fill="#fff" stroke="#000" stroke-width="1.45"/>
<path d="M457.9,275.40000000000003 L462.9,275.40000000000003 L460.4,280.8 Z" fill="#000"/>
<path d="M471.5,278.5 L476.5,278.5 L474,283.9 Z" fill="#000"/>
<path d="M481.9,272.7 L486.9,272.7 L484.4,278.09999999999997 Z" fill="#000"/>
<path d="M503.5,295.8 L508.5,295.8 L506,301.2 Z" fill="#000"/>
<circle cx="283.0" cy="385.7" r="3.3" fill="#000"/>
<text x="289.20000000000005" y="389.3" font-size="13.5" text-anchor="start" font-family="'Liberation Serif', serif" font-weight="bold" stroke="#000" stroke-width="0.25" textLength="51" lengthAdjust="spacingAndGlyphs" >Nutlin-3a</text>
<path d="M280.20000000000005,398.1 L286.20000000000005,398.1 L283.20000000000005,403.9 Z" fill="#000"/>
<text x="289.20000000000005" y="404.4" font-size="13.5" text-anchor="start" font-family="'Liberation Serif', serif" font-weight="bold" stroke="#000" stroke-width="0.25" textLength="52" lengthAdjust="spacingAndGlyphs" >Nutlin-3b</text>
<path d="M349.0,385.40000000000003 L352.3,382.1 L355.6,385.40000000000003 L352.3,388.70000000000005 Z" fill="#fff" stroke="#000" stroke-width="1.55"/>
<text x="358.5" y="389.3" font-size="13.5" text-anchor="start" font-family="'Liberation Serif', serif" font-weight="bold" stroke="#000" stroke-width="0.25" textLength="52" lengthAdjust="spacingAndGlyphs" >Etoposide</text>
<circle cx="352" cy="400.7" r="2.4" fill="#fff" stroke="#000" stroke-width="1.55"/>
<text x="358.5" y="404.4" font-size="13.5" text-anchor="start" font-family="'Liberation Serif', serif" font-weight="bold" stroke="#000" stroke-width="0.25" textLength="56.75" lengthAdjust="spacingAndGlyphs" >Melphalan</text>
<text x="408.75" y="450" font-size="13.5" text-anchor="start" font-family="'Liberation Serif', serif" font-weight="bold" stroke="#000" stroke-width="0.25" textLength="110.5" lengthAdjust="spacingAndGlyphs" >concentration [µM]</text>
<text transform="translate(234.9,415) rotate(-90)" font-size="13.8" font-family="'Liberation Serif', serif" font-weight="bold" stroke="#000" stroke-width="0.25" textLength="153.5" lengthAdjust="spacingAndGlyphs" >relative to DMSO control</text>
<text transform="translate(219.9,373.6) rotate(-90)" font-size="14.5" font-family="'Liberation Serif', serif" font-style="italic" textLength="16.69999999999999" lengthAdjust="spacingAndGlyphs">%</text>
<text transform="translate(219.6,352.8) rotate(-90)" font-size="13.8" font-family="'Liberation Serif', serif" font-weight="bold" stroke="#000" stroke-width="0.25" textLength="44.80000000000001" lengthAdjust="spacingAndGlyphs" >survival</text>
<text x="308.75" y="20.5" font-size="17.6" text-anchor="start" font-family="'Liberation Serif', serif" font-weight="bold" stroke="#000" stroke-width="0.25" textLength="42.8" lengthAdjust="spacingAndGlyphs" >CD34</text>
<text x="352.3" y="16.2" font-size="10.5" text-anchor="start" font-family="'Liberation Serif', serif" font-weight="bold" stroke="#000" stroke-width="0.25" textLength="6.6" lengthAdjust="spacingAndGlyphs" >+</text>
<text x="364.5" y="20.5" font-size="17.6" text-anchor="start" font-family="'Liberation Serif', serif" font-weight="bold" stroke="#000" stroke-width="0.25" textLength="35" lengthAdjust="spacingAndGlyphs" >cells</text>
<text x="31.3" y="227.8" font-size="13.8" text-anchor="start" font-family="'Liberation Serif', serif" font-weight="bold" stroke="#000" stroke-width="0.25" textLength="113.8" lengthAdjust="spacingAndGlyphs" >plasmablastic cells</text>
<line x1="40.5" y1="242.70000000000002" x2="40.5" y2="422.9" stroke="#000" stroke-width="1.4"/>
<line x1="40" y1="422.9" x2="186" y2="422.9" stroke="#000" stroke-width="1.5"/>
<line x1="36" y1="404.94" x2="40.5" y2="404.94" stroke="#000" stroke-width="1.2"/>
<text x="32.8" y="408.84" font-size="12" text-anchor="end" font-family="'Liberation Serif', serif" font-weight="bold" stroke="#000" stroke-width="0.25" textLength="11.2" lengthAdjust="spacingAndGlyphs" >10</text>
<line x1="36" y1="386.98" x2="40.5" y2="386.98" stroke="#000" stroke-width="1.2"/>
<text x="32.8" y="390.88" font-size="12" text-anchor="end" font-family="'Liberation Serif', serif" font-weight="bold" stroke="#000" stroke-width="0.25" textLength="11.2" lengthAdjust="spacingAndGlyphs" >20</text>
<line x1="36" y1="369.02" x2="40.5" y2="369.02" stroke="#000" stroke-width="1.2"/>
<text x="32.8" y="372.91999999999996" font-size="12" text-anchor="end" font-family="'Liberation Serif', serif" font-weight="bold" stroke="#000" stroke-width="0.25" textLength="11.2" lengthAdjust="spacingAndGlyphs" >30</text>
<line x1="36" y1="351.06" x2="40.5" y2="351.06" stroke="#000" stroke-width="1.2"/>
<text x="32.8" y="354.96" font-size="12" text-anchor="end" font-family="'Liberation Serif', serif" font-weight="bold" stroke="#000" stroke-width="0.25" textLength="11.2" lengthAdjust="spacingAndGlyphs" >40</text>
<line x1="36" y1="333.1" x2="40.5" y2="333.1" stroke="#000" stroke-width="1.2"/>
<text x="32.8" y="337.0" font-size="12" text-anchor="end" font-family="'Liberation Serif', serif" font-weight="bold" stroke="#000" stroke-width="0.25" textLength="11.2" lengthAdjust="spacingAndGlyphs" >50</text>
<line x1="36" y1="315.14" x2="40.5" y2="315.14" stroke="#000" stroke-width="1.2"/>
<text x="32.8" y="319.03999999999996" font-size="12" text-anchor="end" font-family="'Liberation Serif', serif" font-weight="bold" stroke="#000" stroke-width="0.25" textLength="11.2" lengthAdjust="spacingAndGlyphs" >60</text>
<line x1="36" y1="297.18" x2="40.5" y2="297.18" stroke="#000" stroke-width="1.2"/>
<text x="32.8" y="301.08" font-size="12" text-anchor="end" font-family="'Liberation Serif', serif" font-weight="bold" stroke="#000" stroke-width="0.25" textLength="11.2" lengthAdjust="spacingAndGlyphs" >70</text>
<line x1="36" y1="279.22" x2="40.5" y2="279.22" stroke="#000" stroke-width="1.2"/>
<text x="32.8" y="283.12" font-size="12" text-anchor="end" font-family="'Liberation Serif', serif" font-weight="bold" stroke="#000" stroke-width="0.25" textLength="11.2" lengthAdjust="spacingAndGlyphs" >80</text>
<line x1="36" y1="261.26" x2="40.5" y2="261.26" stroke="#000" stroke-width="1.2"/>
<text x="32.8" y="265.15999999999997" font-size="12" text-anchor="end" font-family="'Liberation Serif', serif" font-weight="bold" stroke="#000" stroke-width="0.25" textLength="11.2" lengthAdjust="spacingAndGlyphs" >90</text>
<line x1="36" y1="243.3" x2="40.5" y2="243.3" stroke="#000" stroke-width="1.2"/>
<text x="32.8" y="247.20000000000002" font-size="12" text-anchor="end" font-family="'Liberation Serif', serif" font-weight="bold" stroke="#000" stroke-width="0.25" textLength="16.6" lengthAdjust="spacingAndGlyphs" >100</text>
<clipPath id="cb47"><rect x="47.9" y="243.3" width="20.199999999999996" height="179.59999999999997"/></clipPath>
<rect x="47.9" y="243.3" width="20.199999999999996" height="179.59999999999997" fill="#fff"/>
<rect x="47.9" y="243.3" width="20.199999999999996" height="179.59999999999997" fill="none" stroke="#000" stroke-width="1.35"/>
<clipPath id="cb75"><rect x="75.3" y="367.4036" width="21.200000000000003" height="55.496399999999994"/></clipPath>
<rect x="75.3" y="367.4036" width="21.200000000000003" height="55.496399999999994" fill="#fff"/>
<path d="M75.91,368.01h2.3v2.3h-2.3zM75.91,378.96h2.3v2.3h-2.3zM73.17,373.49h2.3v2.3h-2.3zM77.28,374.86h2.3v2.3h-2.3zM75.91,389.91h2.3v2.3h-2.3zM73.17,384.44h2.3v2.3h-2.3zM77.28,385.81h2.3v2.3h-2.3zM75.91,400.86h2.3v2.3h-2.3zM73.17,395.39h2.3v2.3h-2.3zM77.28,396.76h2.3v2.3h-2.3zM75.91,411.81h2.3v2.3h-2.3zM73.17,406.34h2.3v2.3h-2.3zM77.28,407.71h2.3v2.3h-2.3zM73.17,417.29h2.3v2.3h-2.3zM77.28,418.66h2.3v2.3h-2.3zM82.76,369.38h2.3v2.3h-2.3zM86.86,368.01h2.3v2.3h-2.3zM81.39,365.28h2.3v2.3h-2.3zM78.65,370.75h2.3v2.3h-2.3zM82.76,380.33h2.3v2.3h-2.3zM86.86,378.96h2.3v2.3h-2.3zM84.12,373.49h2.3v2.3h-2.3zM88.23,374.86h2.3v2.3h-2.3zM81.39,376.23h2.3v2.3h-2.3zM78.65,381.70h2.3v2.3h-2.3zM82.76,391.28h2.3v2.3h-2.3zM86.86,389.91h2.3v2.3h-2.3zM84.12,384.44h2.3v2.3h-2.3zM88.23,385.81h2.3v2.3h-2.3zM81.39,387.18h2.3v2.3h-2.3zM78.65,392.65h2.3v2.3h-2.3zM82.76,402.23h2.3v2.3h-2.3zM86.86,400.86h2.3v2.3h-2.3zM84.12,395.39h2.3v2.3h-2.3zM88.23,396.76h2.3v2.3h-2.3zM81.39,398.12h2.3v2.3h-2.3zM78.65,403.60h2.3v2.3h-2.3zM82.76,413.18h2.3v2.3h-2.3zM86.86,411.81h2.3v2.3h-2.3zM84.12,406.34h2.3v2.3h-2.3zM88.23,407.71h2.3v2.3h-2.3zM81.39,409.08h2.3v2.3h-2.3zM78.65,414.55h2.3v2.3h-2.3zM84.12,417.29h2.3v2.3h-2.3zM88.23,418.66h2.3v2.3h-2.3zM81.39,420.03h2.3v2.3h-2.3zM93.71,369.38h2.3v2.3h-2.3zM92.34,365.28h2.3v2.3h-2.3zM89.60,370.75h2.3v2.3h-2.3zM93.71,380.33h2.3v2.3h-2.3zM95.07,373.49h2.3v2.3h-2.3zM92.34,376.23h2.3v2.3h-2.3zM89.60,381.70h2.3v2.3h-2.3zM93.71,391.28h2.3v2.3h-2.3zM95.07,384.44h2.3v2.3h-2.3zM92.34,387.18h2.3v2.3h-2.3zM89.60,392.65h2.3v2.3h-2.3zM93.71,402.23h2.3v2.3h-2.3zM95.07,395.39h2.3v2.3h-2.3zM92.34,398.12h2.3v2.3h-2.3zM89.60,403.60h2.3v2.3h-2.3zM93.71,413.18h2.3v2.3h-2.3zM95.07,406.34h2.3v2.3h-2.3zM92.34,409.08h2.3v2.3h-2.3zM89.60,414.55h2.3v2.3h-2.3zM95.07,417.29h2.3v2.3h-2.3zM92.34,420.03h2.3v2.3h-2.3z" fill="#000" clip-path="url(#cb75)"/>
<rect x="75.3" y="367.4036" width="21.200000000000003" height="55.496399999999994" fill="none" stroke="#000" stroke-width="1.35"/>
<line x1="86.2" y1="367.4036" x2="86.2" y2="349.6232" stroke="#000" stroke-width="1.2"/>
<line x1="83.5" y1="349.6232" x2="88.9" y2="349.6232" stroke="#000" stroke-width="1.3"/>
<clipPath id="cb103"><rect x="103.1" y="257.668" width="20.60000000000001" height="165.23199999999997"/></clipPath>
<rect x="103.1" y="257.668" width="20.60000000000001" height="165.23199999999997" fill="#fff"/>
<path d="M106.83,256.09h1.4v1.4h-1.4zM104.09,258.83h1.4v1.4h-1.4zM102.72,261.57h1.4v1.4h-1.4zM105.46,264.31h1.4v1.4h-1.4zM106.83,267.04h1.4v1.4h-1.4zM104.09,269.78h1.4v1.4h-1.4zM102.72,272.52h1.4v1.4h-1.4zM105.46,275.26h1.4v1.4h-1.4zM106.83,277.99h1.4v1.4h-1.4zM104.09,280.73h1.4v1.4h-1.4zM102.72,283.47h1.4v1.4h-1.4zM105.46,286.21h1.4v1.4h-1.4zM106.83,288.94h1.4v1.4h-1.4zM104.09,291.68h1.4v1.4h-1.4zM102.72,294.42h1.4v1.4h-1.4zM105.46,297.16h1.4v1.4h-1.4zM106.83,299.89h1.4v1.4h-1.4zM104.09,302.63h1.4v1.4h-1.4zM102.72,305.37h1.4v1.4h-1.4zM105.46,308.11h1.4v1.4h-1.4zM106.83,310.84h1.4v1.4h-1.4zM104.09,313.58h1.4v1.4h-1.4zM102.72,316.32h1.4v1.4h-1.4zM105.46,319.06h1.4v1.4h-1.4zM106.83,321.79h1.4v1.4h-1.4zM104.09,324.53h1.4v1.4h-1.4zM102.72,327.27h1.4v1.4h-1.4zM105.46,330.01h1.4v1.4h-1.4zM106.83,332.74h1.4v1.4h-1.4zM104.09,335.48h1.4v1.4h-1.4zM102.72,338.22h1.4v1.4h-1.4zM105.46,340.96h1.4v1.4h-1.4zM106.83,343.69h1.4v1.4h-1.4zM104.09,346.43h1.4v1.4h-1.4zM102.72,349.17h1.4v1.4h-1.4zM105.46,351.91h1.4v1.4h-1.4zM106.83,354.64h1.4v1.4h-1.4zM104.09,357.38h1.4v1.4h-1.4zM102.72,360.12h1.4v1.4h-1.4zM105.46,362.86h1.4v1.4h-1.4zM106.83,365.59h1.4v1.4h-1.4zM104.09,368.33h1.4v1.4h-1.4zM102.72,371.07h1.4v1.4h-1.4zM105.46,373.81h1.4v1.4h-1.4zM106.83,376.54h1.4v1.4h-1.4zM104.09,379.28h1.4v1.4h-1.4zM102.72,382.02h1.4v1.4h-1.4zM105.46,384.76h1.4v1.4h-1.4zM106.83,387.49h1.4v1.4h-1.4zM104.09,390.23h1.4v1.4h-1.4zM102.72,392.97h1.4v1.4h-1.4zM105.46,395.71h1.4v1.4h-1.4zM106.83,398.44h1.4v1.4h-1.4zM104.09,401.18h1.4v1.4h-1.4zM102.72,403.92h1.4v1.4h-1.4zM105.46,406.66h1.4v1.4h-1.4zM106.83,409.39h1.4v1.4h-1.4zM104.09,412.13h1.4v1.4h-1.4zM102.72,414.87h1.4v1.4h-1.4zM105.46,417.61h1.4v1.4h-1.4zM106.83,420.34h1.4v1.4h-1.4zM104.09,423.08h1.4v1.4h-1.4zM117.78,256.09h1.4v1.4h-1.4zM110.94,257.46h1.4v1.4h-1.4zM115.04,258.83h1.4v1.4h-1.4zM108.20,260.20h1.4v1.4h-1.4zM113.67,261.57h1.4v1.4h-1.4zM109.57,262.94h1.4v1.4h-1.4zM116.41,264.31h1.4v1.4h-1.4zM112.31,265.68h1.4v1.4h-1.4zM117.78,267.04h1.4v1.4h-1.4zM110.94,268.41h1.4v1.4h-1.4zM115.04,269.78h1.4v1.4h-1.4zM108.20,271.15h1.4v1.4h-1.4zM113.67,272.52h1.4v1.4h-1.4zM109.57,273.89h1.4v1.4h-1.4zM116.41,275.26h1.4v1.4h-1.4zM112.31,276.62h1.4v1.4h-1.4zM117.78,277.99h1.4v1.4h-1.4zM110.94,279.36h1.4v1.4h-1.4zM115.04,280.73h1.4v1.4h-1.4zM108.20,282.10h1.4v1.4h-1.4zM113.67,283.47h1.4v1.4h-1.4zM109.57,284.84h1.4v1.4h-1.4zM116.41,286.21h1.4v1.4h-1.4zM112.31,287.57h1.4v1.4h-1.4zM117.78,288.94h1.4v1.4h-1.4zM110.94,290.31h1.4v1.4h-1.4zM115.04,291.68h1.4v1.4h-1.4zM108.20,293.05h1.4v1.4h-1.4zM113.67,294.42h1.4v1.4h-1.4zM109.57,295.79h1.4v1.4h-1.4zM116.41,297.16h1.4v1.4h-1.4zM112.31,298.53h1.4v1.4h-1.4zM117.78,299.89h1.4v1.4h-1.4zM110.94,301.26h1.4v1.4h-1.4zM115.04,302.63h1.4v1.4h-1.4zM108.20,304.00h1.4v1.4h-1.4zM113.67,305.37h1.4v1.4h-1.4zM109.57,306.74h1.4v1.4h-1.4zM116.41,308.11h1.4v1.4h-1.4zM112.31,309.48h1.4v1.4h-1.4zM117.78,310.84h1.4v1.4h-1.4zM110.94,312.21h1.4v1.4h-1.4zM115.04,313.58h1.4v1.4h-1.4zM108.20,314.95h1.4v1.4h-1.4zM113.67,316.32h1.4v1.4h-1.4zM109.57,317.69h1.4v1.4h-1.4zM116.41,319.06h1.4v1.4h-1.4zM112.31,320.43h1.4v1.4h-1.4zM117.78,321.79h1.4v1.4h-1.4zM110.94,323.16h1.4v1.4h-1.4zM115.04,324.53h1.4v1.4h-1.4zM108.20,325.90h1.4v1.4h-1.4zM113.67,327.27h1.4v1.4h-1.4zM109.57,328.64h1.4v1.4h-1.4zM116.41,330.01h1.4v1.4h-1.4zM112.31,331.38h1.4v1.4h-1.4zM117.78,332.74h1.4v1.4h-1.4zM110.94,334.11h1.4v1.4h-1.4zM115.04,335.48h1.4v1.4h-1.4zM108.20,336.85h1.4v1.4h-1.4zM113.67,338.22h1.4v1.4h-1.4zM109.57,339.59h1.4v1.4h-1.4zM116.41,340.96h1.4v1.4h-1.4zM112.31,342.32h1.4v1.4h-1.4zM117.78,343.69h1.4v1.4h-1.4zM110.94,345.06h1.4v1.4h-1.4zM115.04,346.43h1.4v1.4h-1.4zM108.20,347.80h1.4v1.4h-1.4zM113.67,349.17h1.4v1.4h-1.4zM109.57,350.54h1.4v1.4h-1.4zM116.41,351.91h1.4v1.4h-1.4zM112.31,353.28h1.4v1.4h-1.4zM117.78,354.64h1.4v1.4h-1.4zM110.94,356.01h1.4v1.4h-1.4zM115.04,357.38h1.4v1.4h-1.4zM108.20,358.75h1.4v1.4h-1.4zM113.67,360.12h1.4v1.4h-1.4zM109.57,361.49h1.4v1.4h-1.4zM116.41,362.86h1.4v1.4h-1.4zM112.31,364.23h1.4v1.4h-1.4zM117.78,365.59h1.4v1.4h-1.4zM110.94,366.96h1.4v1.4h-1.4zM115.04,368.33h1.4v1.4h-1.4zM108.20,369.70h1.4v1.4h-1.4zM113.67,371.07h1.4v1.4h-1.4zM109.57,372.44h1.4v1.4h-1.4zM116.41,373.81h1.4v1.4h-1.4zM112.31,375.18h1.4v1.4h-1.4zM117.78,376.54h1.4v1.4h-1.4zM110.94,377.91h1.4v1.4h-1.4zM115.04,379.28h1.4v1.4h-1.4zM108.20,380.65h1.4v1.4h-1.4zM113.67,382.02h1.4v1.4h-1.4zM109.57,383.39h1.4v1.4h-1.4zM116.41,384.76h1.4v1.4h-1.4zM112.31,386.12h1.4v1.4h-1.4zM117.78,387.49h1.4v1.4h-1.4zM110.94,388.86h1.4v1.4h-1.4zM115.04,390.23h1.4v1.4h-1.4zM108.20,391.60h1.4v1.4h-1.4zM113.67,392.97h1.4v1.4h-1.4zM109.57,394.34h1.4v1.4h-1.4zM116.41,395.71h1.4v1.4h-1.4zM112.31,397.07h1.4v1.4h-1.4zM117.78,398.44h1.4v1.4h-1.4zM110.94,399.81h1.4v1.4h-1.4zM115.04,401.18h1.4v1.4h-1.4zM108.20,402.55h1.4v1.4h-1.4zM113.67,403.92h1.4v1.4h-1.4zM109.57,405.29h1.4v1.4h-1.4zM116.41,406.66h1.4v1.4h-1.4zM112.31,408.03h1.4v1.4h-1.4zM117.78,409.39h1.4v1.4h-1.4zM110.94,410.76h1.4v1.4h-1.4zM115.04,412.13h1.4v1.4h-1.4zM108.20,413.50h1.4v1.4h-1.4zM113.67,414.87h1.4v1.4h-1.4zM109.57,416.24h1.4v1.4h-1.4zM116.41,417.61h1.4v1.4h-1.4zM112.31,418.97h1.4v1.4h-1.4zM117.78,420.34h1.4v1.4h-1.4zM110.94,421.71h1.4v1.4h-1.4zM115.04,423.08h1.4v1.4h-1.4zM121.89,257.46h1.4v1.4h-1.4zM119.15,260.20h1.4v1.4h-1.4zM120.52,262.94h1.4v1.4h-1.4zM123.26,265.68h1.4v1.4h-1.4zM121.89,268.41h1.4v1.4h-1.4zM119.15,271.15h1.4v1.4h-1.4zM120.52,273.89h1.4v1.4h-1.4zM123.26,276.62h1.4v1.4h-1.4zM121.89,279.36h1.4v1.4h-1.4zM119.15,282.10h1.4v1.4h-1.4zM120.52,284.84h1.4v1.4h-1.4zM123.26,287.57h1.4v1.4h-1.4zM121.89,290.31h1.4v1.4h-1.4zM119.15,293.05h1.4v1.4h-1.4zM120.52,295.79h1.4v1.4h-1.4zM123.26,298.53h1.4v1.4h-1.4zM121.89,301.26h1.4v1.4h-1.4zM119.15,304.00h1.4v1.4h-1.4zM120.52,306.74h1.4v1.4h-1.4zM123.26,309.48h1.4v1.4h-1.4zM121.89,312.21h1.4v1.4h-1.4zM119.15,314.95h1.4v1.4h-1.4zM120.52,317.69h1.4v1.4h-1.4zM123.26,320.43h1.4v1.4h-1.4zM121.89,323.16h1.4v1.4h-1.4zM119.15,325.90h1.4v1.4h-1.4zM120.52,328.64h1.4v1.4h-1.4zM123.26,331.38h1.4v1.4h-1.4zM121.89,334.11h1.4v1.4h-1.4zM119.15,336.85h1.4v1.4h-1.4zM120.52,339.59h1.4v1.4h-1.4zM123.26,342.32h1.4v1.4h-1.4zM121.89,345.06h1.4v1.4h-1.4zM119.15,347.80h1.4v1.4h-1.4zM120.52,350.54h1.4v1.4h-1.4zM123.26,353.28h1.4v1.4h-1.4zM121.89,356.01h1.4v1.4h-1.4zM119.15,358.75h1.4v1.4h-1.4zM120.52,361.49h1.4v1.4h-1.4zM123.26,364.23h1.4v1.4h-1.4zM121.89,366.96h1.4v1.4h-1.4zM119.15,369.70h1.4v1.4h-1.4zM120.52,372.44h1.4v1.4h-1.4zM123.26,375.18h1.4v1.4h-1.4zM121.89,377.91h1.4v1.4h-1.4zM119.15,380.65h1.4v1.4h-1.4zM120.52,383.39h1.4v1.4h-1.4zM123.26,386.12h1.4v1.4h-1.4zM121.89,388.86h1.4v1.4h-1.4zM119.15,391.60h1.4v1.4h-1.4zM120.52,394.34h1.4v1.4h-1.4zM123.26,397.07h1.4v1.4h-1.4zM121.89,399.81h1.4v1.4h-1.4zM119.15,402.55h1.4v1.4h-1.4zM120.52,405.29h1.4v1.4h-1.4zM123.26,408.03h1.4v1.4h-1.4zM121.89,410.76h1.4v1.4h-1.4zM119.15,413.50h1.4v1.4h-1.4zM120.52,416.24h1.4v1.4h-1.4zM123.26,418.97h1.4v1.4h-1.4zM121.89,421.71h1.4v1.4h-1.4z" fill="#111" clip-path="url(#cb103)"/>
<rect x="103.1" y="257.668" width="20.60000000000001" height="165.23199999999997" fill="none" stroke="#000" stroke-width="1.35"/>
<line x1="113.7" y1="257.668" x2="113.7" y2="241.50400000000002" stroke="#000" stroke-width="1.2"/>
<line x1="111.0" y1="241.50400000000002" x2="116.4" y2="241.50400000000002" stroke="#000" stroke-width="1.3"/>
<clipPath id="cb130"><rect x="130.85" y="253.178" width="20.200000000000017" height="169.72199999999998"/></clipPath>
<rect x="130.85" y="253.178" width="20.200000000000017" height="169.72199999999998" fill="#fff"/>
<path d="M129.85,253.57L152.05,231.37M129.85,259.05L152.05,236.85M129.85,264.52L152.05,242.32M129.85,270.00L152.05,247.80M129.85,275.48L152.05,253.27M129.85,280.95L152.05,258.75M129.85,286.42L152.05,264.22M129.85,291.90L152.05,269.70M129.85,297.38L152.05,275.17M129.85,302.85L152.05,280.65M129.85,308.32L152.05,286.12M129.85,313.80L152.05,291.60M129.85,319.27L152.05,297.07M129.85,324.75L152.05,302.55M129.85,330.23L152.05,308.02M129.85,335.70L152.05,313.50M129.85,341.17L152.05,318.97M129.85,346.65L152.05,324.45M129.85,352.12L152.05,329.92M129.85,357.60L152.05,335.40M129.85,363.07L152.05,340.87M129.85,368.55L152.05,346.35M129.85,374.02L152.05,351.82M129.85,379.50L152.05,357.30M129.85,384.98L152.05,362.77M129.85,390.45L152.05,368.25M129.85,395.92L152.05,373.72M129.85,401.40L152.05,379.20M129.85,406.88L152.05,384.67M129.85,412.35L152.05,390.15M129.85,417.82L152.05,395.62M129.85,423.30L152.05,401.10M129.85,428.77L152.05,406.57M129.85,434.25L152.05,412.05M129.85,439.72L152.05,417.52M129.85,445.20L152.05,423.00" stroke="#000" stroke-width="1.1" fill="none" clip-path="url(#cb130)"/>
<rect x="130.85" y="253.178" width="20.200000000000017" height="169.72199999999998" fill="none" stroke="#000" stroke-width="1.35"/>
<line x1="141.25" y1="253.178" x2="141.25" y2="244.0184" stroke="#000" stroke-width="1.2"/>
<line x1="138.55" y1="244.0184" x2="143.95" y2="244.0184" stroke="#000" stroke-width="1.3"/>
<clipPath id="cb158"><rect x="158.4" y="391.82919999999996" width="21.19999999999999" height="31.07080000000002"/></clipPath>
<rect x="158.4" y="391.82919999999996" width="21.19999999999999" height="31.07080000000002" fill="#7f7f7f"/>
<rect x="158.4" y="391.82919999999996" width="21.19999999999999" height="31.07080000000002" fill="none" stroke="#000" stroke-width="1.35"/>
<line x1="169.3" y1="391.82919999999996" x2="169.3" y2="377.102" stroke="#000" stroke-width="1.2"/>
<line x1="166.60000000000002" y1="377.102" x2="172.0" y2="377.102" stroke="#000" stroke-width="1.3"/>
<text x="58.5" y="441.4" font-size="13.3" text-anchor="middle" font-family="'Liberation Serif', serif" font-weight="bold" stroke="#000" stroke-width="0.25" stroke-width="0">D</text>
<text x="85.5" y="441.4" font-size="13.3" text-anchor="middle" font-family="'Liberation Serif', serif" font-weight="bold" stroke="#000" stroke-width="0.25" stroke-width="0">A</text>
<text x="113.2" y="441.4" font-size="13.3" text-anchor="middle" font-family="'Liberation Serif', serif" font-weight="bold" stroke="#000" stroke-width="0.25" stroke-width="0">B</text>
<text x="140.3" y="441.4" font-size="13.3" text-anchor="middle" font-family="'Liberation Serif', serif" font-weight="bold" stroke="#000" stroke-width="0.25" textLength="18" lengthAdjust="spacingAndGlyphs" stroke-width="0">Eto</text>
<text x="168.4" y="441.4" font-size="13.3" text-anchor="middle" font-family="'Liberation Serif', serif" font-weight="bold" stroke="#000" stroke-width="0.25" textLength="20.8" lengthAdjust="spacingAndGlyphs" stroke-width="0">Mel</text>
<text x="85.4" y="451.5" font-size="7.4" text-anchor="middle" font-family="'Liberation Serif', serif" font-weight="bold" stroke="#000" stroke-width="0.25" textLength="21.4" lengthAdjust="spacingAndGlyphs" stroke-width="0.1">10 µM</text>
<text x="113.2" y="451.5" font-size="7.4" text-anchor="middle" font-family="'Liberation Serif', serif" font-weight="bold" stroke="#000" stroke-width="0.25" textLength="21.4" lengthAdjust="spacingAndGlyphs" stroke-width="0.1">10 µM</text>
<text x="140.7" y="451.5" font-size="7.4" text-anchor="middle" font-family="'Liberation Serif', serif" font-weight="bold" stroke="#000" stroke-width="0.25" textLength="21.4" lengthAdjust="spacingAndGlyphs" stroke-width="0.1">10 µM</text>
<text x="168.2" y="451.5" font-size="7.4" text-anchor="middle" font-family="'Liberation Serif', serif" font-weight="bold" stroke="#000" stroke-width="0.25" textLength="21.4" lengthAdjust="spacingAndGlyphs" stroke-width="0.1">10 µM</text>
<text transform="translate(8.3,416) rotate(-90)" font-size="10.2" font-family="'Liberation Serif', serif" font-weight="bold" stroke="#000" stroke-width="0.25" textLength="161" lengthAdjust="spacingAndGlyphs" >% survival relative to DMSO control</text>
</svg>
</body></html>
